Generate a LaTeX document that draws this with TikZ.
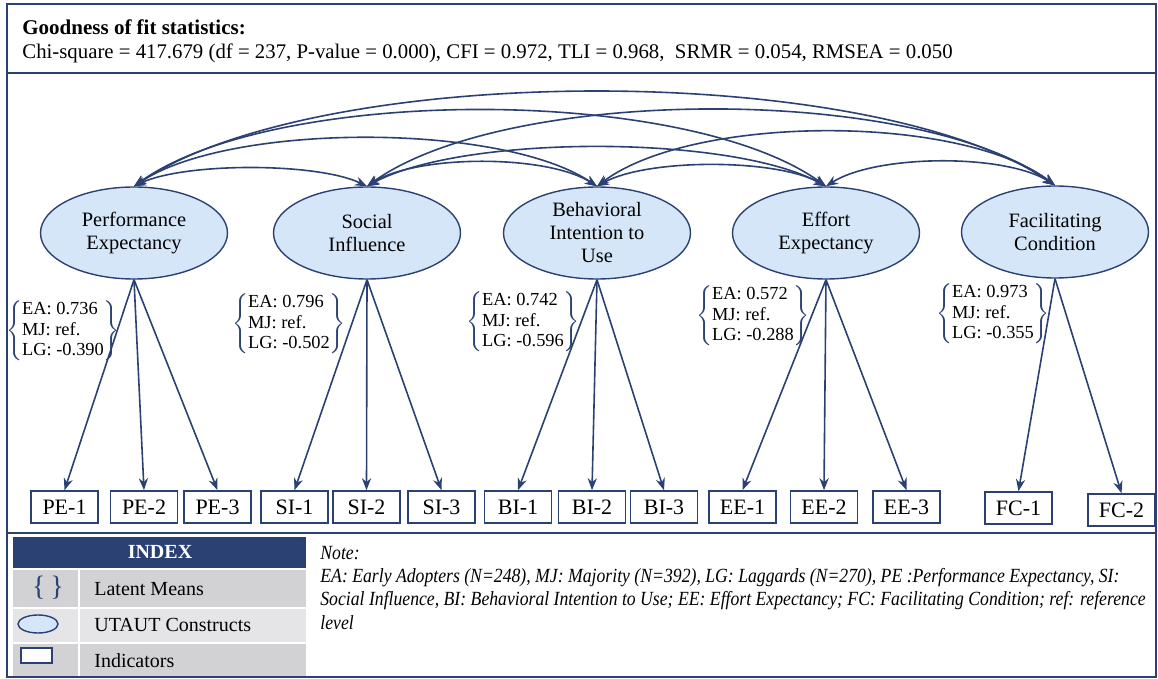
\documentclass[tikz,border=0pt]{standalone}
\usepackage{fontspec}
\setmainfont{Liberation Serif}
\newfontfamily\notefont{Liberation Serif}[FakeStretch=0.88]
\usepackage{tikz}
\usetikzlibrary{arrows.meta,
                calc,
                positioning,
                shapes.geometric}
\definecolor{navy}{RGB}{43,65,115}
\definecolor{ltblue}{RGB}{214,230,249}
\definecolor{rowdark}{RGB}{210,210,213}
\definecolor{rowlight}{RGB}{229,229,231}
\tikzset{
        construct/.style={ellipse, draw=navy, fill=ltblue, line width=0.7pt,
                          minimum width=93.5pt, minimum height=46pt,
                          inner sep=0pt, align=center,
                          font=\fontsize{10.2}{11.5}\selectfont},
        indicator/.style={rectangle, draw=navy, fill=white, line width=0.8pt,
                          minimum width=33.5pt, minimum height=16pt,
                          inner sep=0pt, font=\fontsize{11}{12}\selectfont},
        means/.style={inner sep=0pt, font=\fontsize{9.2}{10.2}\selectfont},
        loading/.style={-{Stealth[length=6pt,width=4.6pt]}, navy, line width=0.8pt},
        covar/.style={{Stealth[length=6pt,width=4.6pt]}-{Stealth[length=6pt,width=4.6pt]},
                      navy, line width=0.8pt},
        panel/.style={draw=navy, line width=1.2pt},
        legend/.style={anchor=west, inner sep=0pt, font=\fontsize{10}{12}\selectfont},
 }
\newcommand{\latmean}[2]{$\color{navy}\left\{{\color{black}\begin{tabular}{@{}l@{}}EA: #1\\MJ: ref.\\LG: #2\end{tabular}}\right\}$}

\begin{document}
\begin{tikzpicture}[x=0.5pt, y=-0.5pt]
    \useasboundingbox (0,0) rectangle (1158,679);
    % frames
    \draw[panel] (7,4) rectangle (1156,73);
    \draw[panel] (7,73) rectangle (1156,533);
    \draw[panel] (7,533) rectangle (1156,677);
    \node[anchor=base west, inner sep=0pt, font=\fontsize{10.5}{12}\selectfont\bfseries]
        (gof) at (22,35) {Goodness of fit statistics:};
    \node[anchor=base west, inner sep=0pt, font=\fontsize{10.4}{12}\selectfont]
        (stats) at (22,59) {Chi-square = 417.679 (df = 237, P-value = 0.000), CFI = 0.972, TLI = 0.968,\ \ SRMR = 0.054, RMSEA = 0.050};

    % constructs
    \node[construct] (pe) at (134,233) {Performance\\Expectancy};
    \node[construct] (si) at (367,233) {Social\\Influence};
    \node[construct] (bi) at (597,233) {Behavioral\\Intention to\\Use};
    \node[construct] (ee) at (826,233) {Effort\\Expectancy};
    \node[construct] (fc) at (1055,232) {Facilitating\\Condition};

    % latent means
    \node[means] (mpe) at (63,331) {\latmean{0.736}{-0.390}};
    \node[means] (msi) at (289,324) {\latmean{0.796}{-0.502}};
    \node[means] (mbi) at (523,322) {\latmean{0.742}{-0.596}};
    \node[means] (mee) at (753,316) {\latmean{0.572}{-0.288}};
    \node[means] (mfc) at (993,314) {\latmean{0.973}{-0.355}};

    % indicators
    \node[indicator] (pe1) at (64.5,507) {PE-1};
    \node[indicator] (pe2) at (144,507) {PE-2};
    \node[indicator] (pe3) at (217.5,507) {PE-3};
    \node[indicator] (si1) at (294.5,507) {SI-1};
    \node[indicator] (si2) at (366.5,507) {SI-2};
    \node[indicator] (si3) at (441.5,507) {SI-3};
    \node[indicator] (bi1) at (518,507) {BI-1};
    \node[indicator] (bi2) at (592,507) {BI-2};
    \node[indicator] (bi3) at (664,507) {BI-3};
    \node[indicator] (ee1) at (742.5,507) {EE-1};
    \node[indicator] (ee2) at (824,507) {EE-2};
    \node[indicator] (ee3) at (906.5,507) {EE-3};
    \node[indicator] (fc1) at (1018.5,508) {FC-1};
    \node[indicator] (fc2) at (1121.5,510) {FC-2};

    \foreach \src/\dst in {pe/pe1, pe/pe2, pe/pe3, si/si1, si/si2, si/si3,
                           bi/bi1, bi/bi2, bi/bi3, ee/ee1, ee/ee2, ee/ee3,
                           fc/fc1, fc/fc2}
        \draw[loading] (\src.south) -- (\dst.north);

    % covariances
    \draw[covar] (pe.north) .. controls +(50,-24) and +(-50,-24) .. (si.north);
    \draw[covar] (pe.north) .. controls +(95,-64) and +(-95,-64) .. (bi.north);
    \draw[covar] (pe.north) .. controls +(140,-101) and +(-140,-101) .. (ee.north);
    \draw[covar] (pe.north) .. controls +(185,-125) and +(-185,-125) .. (fc.north);
    \draw[covar] (si.north) .. controls +(50,-32) and +(-50,-32) .. (bi.north);
    \draw[covar] (si.north) .. controls +(95,-52) and +(-95,-52) .. (ee.north);
    \draw[covar] (si.north) .. controls +(140,-101) and +(-140,-101) .. (fc.north);
    \draw[covar] (bi.north) .. controls +(50,-28) and +(-50,-28) .. (ee.north);
    \draw[covar] (bi.north) .. controls +(95,-72) and +(-95,-72) .. (fc.north);
    \draw[covar] (ee.north) .. controls +(50,-32) and +(-50,-32) .. (fc.north);

    % index table
    \fill[navy] (13,537) rectangle (306,568);
    \node[text=white, font=\fontsize{10}{12}\selectfont\bfseries] (index) at (160,552) {INDEX};
    \fill[rowdark] (13,570) rectangle (78,607);
    \fill[rowdark] (80,570) rectangle (306,607);
    \fill[rowlight] (13,609) rectangle (78,642);
    \fill[rowlight] (80,609) rectangle (306,642);
    \fill[rowdark] (13,644) rectangle (78,676);
    \fill[rowdark] (80,644) rectangle (306,676);
    \node[text=navy, font=\fontsize{14}{15}\selectfont] (icbrace) at (48,588) {\{\,\}};
    \draw[navy, fill=ltblue, line width=0.7pt] (38,624) ellipse [x radius=20, y radius=9];
    \draw[navy, fill=white, line width=0.9pt] (21,648) rectangle (52,663);
    \node[legend] (lgmean) at (94,589) {Latent Means};
    \node[legend] (lgcons) at (94,625) {UTAUT Constructs};
    \node[legend] (lgind) at (94,661) {Indicators};

    % note
    \node[anchor=north west, inner sep=0pt, align=left,
          font=\notefont\fontsize{10.05}{11.6}\selectfont\itshape] (note) at (320,546)
        {Note:\\
         EA: Early Adopters (N=248), MJ: Majority (N=392), LG: Laggards (N=270), PE :Performance Expectancy, SI:\\
         Social Influence, BI: Behavioral Intention to Use; EE: Effort Expectancy; FC: Facilitating Condition; ref: reference\\
         level};
\end{tikzpicture}
\end{document}
